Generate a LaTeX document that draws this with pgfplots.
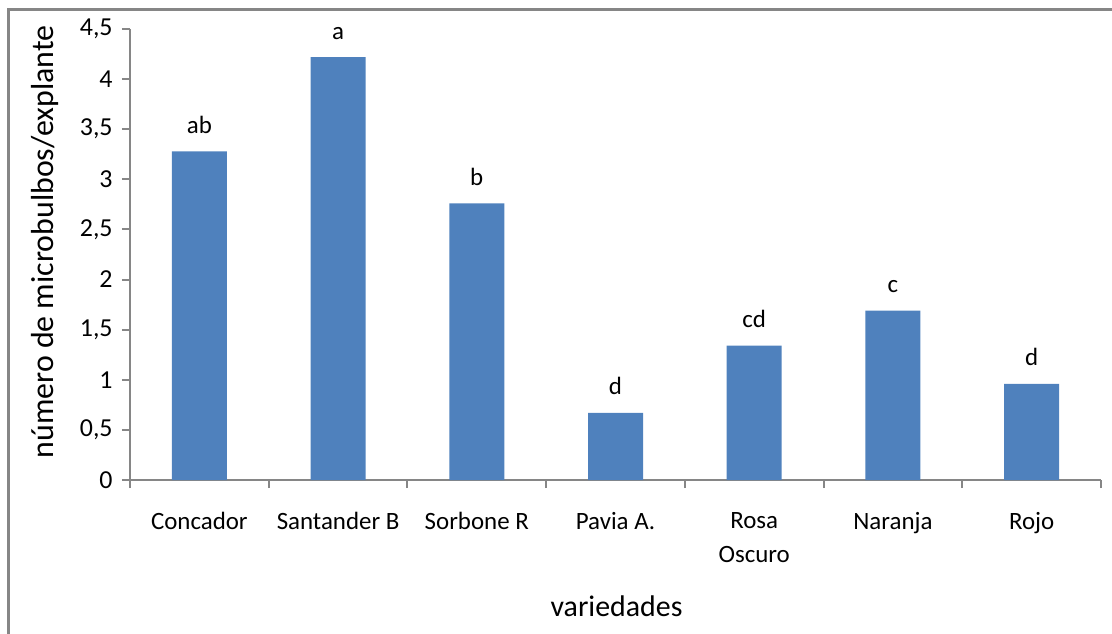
\documentclass[border=0pt]{standalone}
\usepackage{pgfplots}
\pgfplotsset{compat=1.18}
\usepackage{pgfplotstable}
\usepackage{fontspec}
\setmainfont{Carlito}

\definecolor{barblue}{HTML}{4F81BD}
\definecolor{axisgray}{HTML}{868686}

\pgfplotstableread{
x y lab
0 3.28 ab
1 4.22 a
2 2.76 b
3 0.67 d
4 1.34 cd
5 1.69 c
6 0.96 d
}\datatable

\begin{document}
\begin{tikzpicture}
\useasboundingbox (0,0) rectangle (556bp,317bp);
% chart frame (right and bottom edges lie outside the crop)
\draw[axisgray, line width=1.2bp] (4.2bp,-5bp) -- (4.2bp,312.3bp) -- (560bp,312.3bp);

\begin{axis}[
    at={(65bp,77bp)}, anchor=south west,
    scale only axis,
    width=485.5bp, height=225.5bp,
    axis lines=left,
    axis line style={-, axisgray, line width=1bp},
    xmin=-0.5, xmax=6.5,
    ymin=0, ymax=4.5,
    ytick={0,0.5,...,4.5},
    xtick={0,...,6},
    xticklabels={Concador, Santander B, Sorbone R, Pavia A., Rosa\\Oscuro, Naranja, Rojo},
    minor xtick={-0.5,0.5,...,6.5},
    major x tick style={draw=none},
    tick align=outside,
    tick style={axisgray, line width=1bp},
    major tick length=4bp, minor tick length=4bp,
    /pgf/number format/use comma,
    /pgf/number format/assume math mode=true,
    ticklabel style={font=\fontsize{12.5}{17}\selectfont},
    xticklabel style={align=center, anchor=north, inner sep=0pt, yshift=-12bp},
    yticklabel style={font=\fontsize{13}{17}\selectfont, anchor=east, inner sep=0pt, xshift=-4.5bp},
    ybar, bar width=27.5bp, bar shift=0pt,
    nodes near coords,
    point meta=explicit symbolic,
    every node near coord/.append style={font=\fontsize{12.5}{15}\selectfont, anchor=base, inner sep=0pt, yshift=9bp},
    clip=false,
]
\addplot[fill=barblue, draw=none] table[x=x, y=y, meta=lab] {\datatable};
\end{axis}

\node[rotate=90, font=\fontsize{16}{19}\selectfont] at (22.5bp,196bp) {número de microbulbos/explante};
\node[font=\fontsize{15}{18}\selectfont] at (308.25bp,14bp) {variedades};
\end{tikzpicture}
\end{document}
